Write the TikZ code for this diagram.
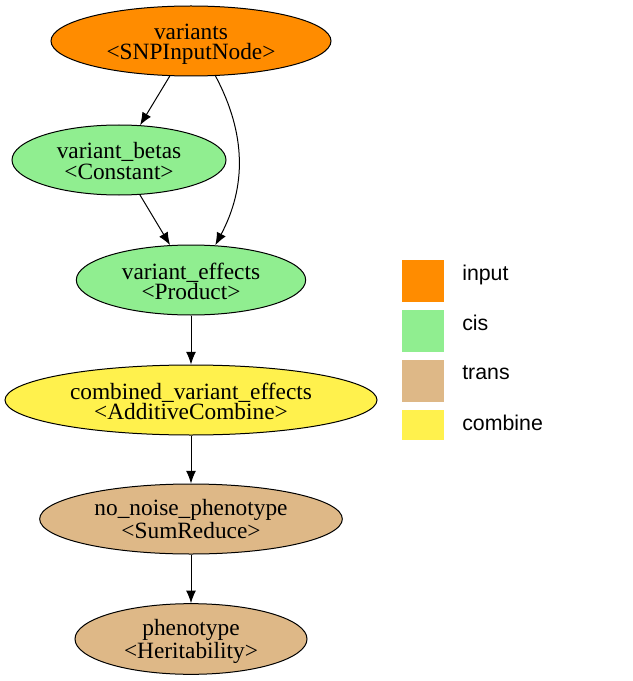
\documentclass[tikz,border=0pt]{standalone}
\usepackage{fontspec}
\setmainfont{Liberation Serif}
\newfontfamily\legendfont{Liberation Sans}
\usetikzlibrary{shapes.geometric}
\usetikzlibrary{arrows.meta}

\definecolor{inputcol}{HTML}{FF8C00}
\definecolor{ciscol}{HTML}{90EE90}
\definecolor{transcol}{HTML}{DEB887}
\definecolor{combinecol}{HTML}{FFF14D}

\tikzset{
    graphnode/.style={ellipse,draw=black,line width=0.75pt,inner sep=0pt,align=center,
        text height=30pt,text depth=1.5pt,font=\fontsize{17.5}{15}\selectfont},
    edge/.style={->,line width=0.75pt},
    legendbox/.style={inner sep=0pt,minimum width=31.5pt,minimum height=31pt},
    legendtext/.style={anchor=base west,inner sep=0pt,font=\legendfont\fontsize{16}{18}\selectfont}
}

\begin{document}
\begin{tikzpicture}[>={Latex[length=9.5pt,width=7.5pt]},x=0.75pt,y=0.75pt]
    \useasboundingbox (0,0) rectangle (632,-681);
    % graph
    \node[graphnode,fill=inputcol,minimum width=210pt,minimum height=52.5pt] (variants) at (191,-41) {variants\\<SNPInputNode>};
    \node[graphnode,fill=ciscol,minimum width=160.5pt,minimum height=52.5pt] (betas) at (119,-160) {variant\_betas\\<Constant>};
    \node[graphnode,fill=ciscol,minimum width=172pt,minimum height=52.5pt] (effects) at (191,-280) {variant\_effects\\<Product>};
    \node[graphnode,fill=combinecol,minimum width=279pt,minimum height=52.5pt] (combined) at (191,-400) {combined\_variant\_effects\\<AdditiveCombine>};
    \node[graphnode,fill=transcol,minimum width=227pt,minimum height=52.5pt] (nonoise) at (191,-519) {no\_noise\_phenotype\\<SumReduce>};
    \node[graphnode,fill=transcol,minimum width=174pt,minimum height=53pt] (pheno) at (191,-639) {phenotype\\<Heritability>};

    \draw[edge] (variants) -- (betas);
    \draw[edge] (betas) -- (effects);
    \draw[edge] (variants.-55) to[out=-62,in=62] (effects.55);
    \draw[edge] (effects) -- (combined);
    \draw[edge] (combined) -- (nonoise);
    \draw[edge] (nonoise) -- (pheno);

    % legend
    \node[legendbox,fill=inputcol,anchor=north west] (boxinput) at (402,-260) {};
    \node[legendbox,fill=ciscol,anchor=north west] (boxcis) at (402,-310) {};
    \node[legendbox,fill=transcol,anchor=north west] (boxtrans) at (402,-360) {};
    \node[legendbox,fill=combinecol,anchor=north west,minimum height=22pt] (boxcombine) at (402,-410) {};
    \node[legendtext] (txtinput) at (462,-280) {input};
    \node[legendtext] (txtcis) at (462,-330) {cis};
    \node[legendtext] (txttrans) at (462,-379) {trans};
    \node[legendtext] (txtcombine) at (462,-430) {combine};
\end{tikzpicture}
\end{document}
